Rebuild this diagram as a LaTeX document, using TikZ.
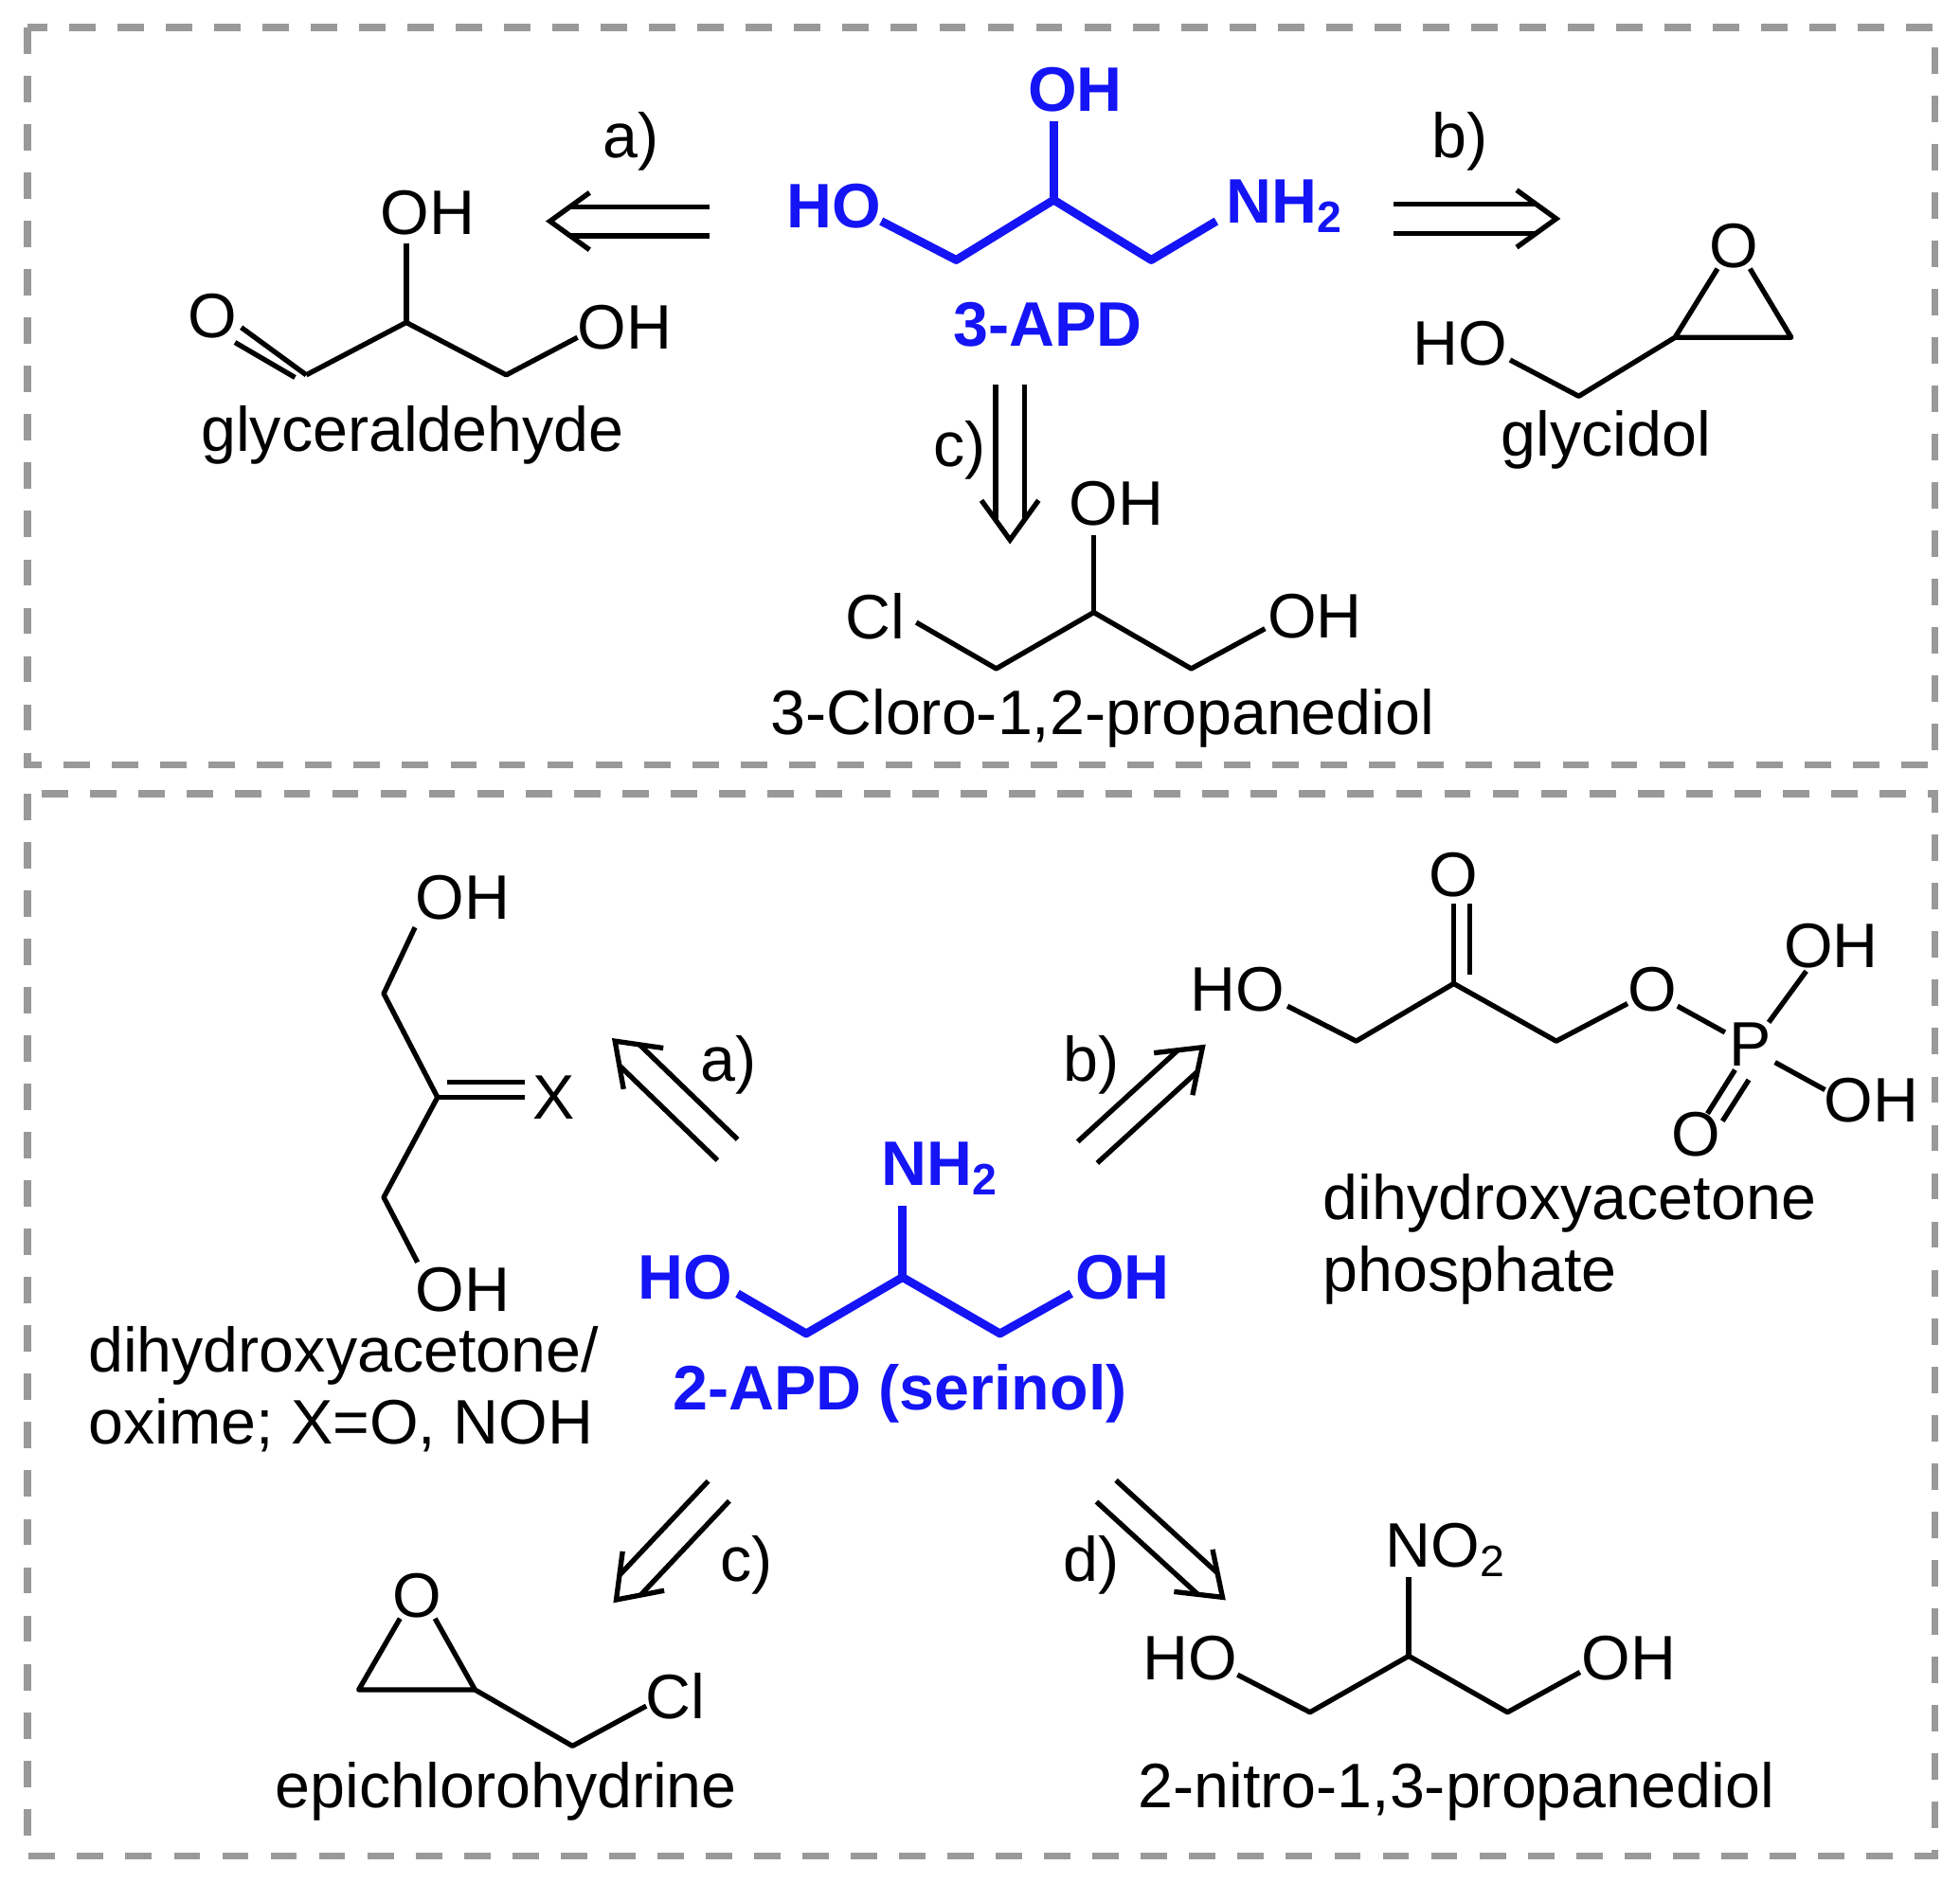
\documentclass[tikz,border=0pt]{standalone}
\usepackage{fontspec}
\setmainfont{Liberation Sans}
\usetikzlibrary{calc}
\definecolor{apd}{RGB}{20,20,245}
\newcommand\retro[2]{%
 \coordinate (rK) at ($(#2)!9pt!(#1)$);
 \coordinate (rM) at ($(#2)!4.6pt!(#1)$);
 \draw[bd] ($(#1)!3.3pt!90:(#2)$) -- ($(rM)!3.3pt!90:(#2)$);
 \draw[bd] ($(#1)!3.3pt!-90:(#2)$) -- ($(rM)!3.3pt!-90:(#2)$);
 \draw[bd,line join=miter] ($(rK)!6.5pt!90:(#2)$) -- (#2) -- ($(rK)!6.5pt!-90:(#2)$);}
\begin{document}
\begin{tikzpicture}[x=0.01cm,y=-0.01cm,
 t/.style={inner sep=0pt,font=\fontsize{14.3}{16}\selectfont},
 bt/.style={t,text=apd,font=\fontsize{14.3}{16}\selectfont\bfseries},
 bd/.style={line width=1.15pt,line join=round},
 bb/.style={line width=1.9pt,apd,line join=round},
 box/.style={gray!80,line width=1.6pt,dash pattern=on 6pt off 5pt}]
\useasboundingbox (0,0) rectangle (1568,1506);
\draw[box] (22,22) rectangle (1548,612);
\draw[box] (22,635) rectangle (1548,1485);
% 3-APD
\node[bt] (ho1) at (667,165) {HO};
\node[bt] (oh1) at (860,72) {OH};
\node[bt] (nh1) at (1028,165) {NH\textsubscript{2}};
\node[bt] (l1) at (838,260) {3-APD};
\coordinate (a1) at (765,208); \coordinate (a2) at (843,160); \coordinate (a3) at (921,208);
\draw[bb] (705,177) -- (a1) -- (a2) -- (a3) -- (973,177);
\draw[bb] (a2) -- (843,97);
% arrows top
\coordinate (ra1) at (568,177); \coordinate (ra2) at (440,177);
\retro{ra1}{ra2} \node[t] (la) at (505,113) {a)};
\coordinate (rb1) at (1115,175); \coordinate (rb2) at (1245,175);
\retro{rb1}{rb2} \node[t] (lb) at (1168,113) {b)};
\coordinate (rc1) at (808,308); \coordinate (rc2) at (808,432);
\retro{rc1}{rc2} \node[t] (lc) at (768,360) {c)};
% glyceraldehyde
\node[t] (go) at (170,253) {O};
\node[t] (goh) at (342,170) {OH};
\node[t] (goh2) at (500,262) {OH};
\coordinate (g1) at (245,300); \coordinate (g2) at (325,258); \coordinate (g3) at (405,300);
\draw[bd] (193,262) -- (g1); \draw[bd] (188,274) -- (236,302);
\draw[bd] (g1) -- (g2) -- (g3) -- (462,270);
\draw[bd] (g2) -- (325,195);
\node[t] (gl) at (330,348) {glyceraldehyde};
% glycidol
\node[t] (yho) at (1168,275) {HO};
\node[t] (yo) at (1387,197) {O};
\coordinate (y1) at (1263,317); \coordinate (y2) at (1340,270); \coordinate (y3) at (1433,270);
\draw[bd] (1208,288) -- (y1) -- (y2) -- (y3) -- (1400,215) (1374,215) -- (y2);
\node[t] (yl) at (1285,352) {glycidol};
% chloro
\node[t] (ccl) at (700,493) {Cl};
\node[t] (coh) at (893,403) {OH};
\node[t] (coh2) at (1052,493) {OH};
\coordinate (c1) at (797,535); \coordinate (c2) at (875,490); \coordinate (c3) at (953,535);
\draw[bd] (733,498) -- (c1) -- (c2) -- (c3) -- (1012,503);
\draw[bd] (c2) -- (875,428);
\node[t] (cl) at (882,575) {3-Cloro-1,2-propanediol};
% serinol
\node[bt] (sho) at (548,1022) {HO};
\node[bt] (snh) at (752,935) {NH\textsubscript{2}};
\node[bt] (soh) at (898,1022) {OH};
\node[bt] (sl) at (720,1115) {2-APD (serinol)};
\coordinate (s1) at (645,1067); \coordinate (s2) at (722,1022); \coordinate (s3) at (800,1067);
\draw[bb] (590,1035) -- (s1) -- (s2) -- (s3) -- (857,1035);
\draw[bb] (s2) -- (722,965);
% arrows bottom
\coordinate (rd1) at (582,920); \coordinate (rd2) at (492,833);
\retro{rd1}{rd2} \node[t] (ld) at (583,852) {a)};
\coordinate (re1) at (870,922); \coordinate (re2) at (962,838);
\retro{re1}{re2} \node[t] (le) at (873,852) {b)};
\coordinate (rf1) at (575,1193); \coordinate (rf2) at (493,1280);
\retro{rf1}{rf2} \node[t] (lf) at (597,1252) {c)};
\coordinate (rg1) at (885,1193); \coordinate (rg2) at (978,1278);
\retro{rg1}{rg2} \node[t] (lg) at (873,1252) {d)};
% DHA
\node[t] (doh) at (370,718) {OH};
\node[t] (doh2) at (370,1032) {OH};
\node[t] (dx) at (443,878) {X};
\coordinate (d1) at (307,795); \coordinate (d2) at (350,878); \coordinate (d3) at (307,958);
\draw[bd] (332,742) -- (d1) -- (d2) -- (d3) -- (334,1010);
\draw[bd] (d2) -- (420,878); \draw[bd] (358,866) -- (420,866);
\node[t,anchor=west] (dl1) at (70,1085) {dihydroxyacetone/};
\node[t,anchor=west] (dl2) at (70,1140) {oxime; X=O, NOH};
% DHAP
\node[t] (pho) at (990,792) {HO};
\node[t] (po) at (1163,700) {O};
\node[t] (po2) at (1322,792) {O};
\node[t] (pp) at (1400,836) {P};
\node[t] (poh) at (1465,757) {OH};
\node[t] (poh2) at (1497,880) {OH};
\node[t] (po3) at (1357,908) {O};
\coordinate (p1) at (1085,833); \coordinate (p2) at (1163,787); \coordinate (p3) at (1245,833);
\draw[bd] (1030,805) -- (p1) -- (p2) -- (p3) -- (1302,803);
\draw[bd] (p2) -- (1163,723); \draw[bd] (1176,780) -- (1176,723);
\draw[bd] (1342,805) -- (1380,826);
\draw[bd] (1415,818) -- (1445,777);
\draw[bd] (1420,850) -- (1460,872);
\draw[bd] (1388,856) -- (1366,891); \draw[bd] (1399,864) -- (1378,897);
\node[t,anchor=west] (pl1) at (1058,963) {dihydroxyacetone};
\node[t,anchor=west] (pl2) at (1058,1020) {phosphate};
% epichlorohydrin
\node[t] (eo) at (334,1277) {O};
\node[t] (ecl) at (540,1357) {Cl};
\coordinate (e1) at (287,1352); \coordinate (e2) at (380,1352); \coordinate (e3) at (458,1397);
\draw[bd] (320,1295) -- (e1) -- (e2) -- (348,1295);
\draw[bd] (e2) -- (e3) -- (517,1365);
\node[t] (el) at (405,1433) {epichlorohydrine};
% nitro
\node[t] (nho) at (952,1327) {HO};
\node[t] (nno) at (1157,1240) {NO\textsubscript{2}};
\node[t] (noh) at (1303,1327) {OH};
\coordinate (n1) at (1048,1370); \coordinate (n2) at (1127,1325); \coordinate (n3) at (1206,1370);
\draw[bd] (990,1340) -- (n1) -- (n2) -- (n3) -- (1264,1338);
\draw[bd] (n2) -- (1127,1262);
\node[t] (nl) at (1165,1433) {2-nitro-1,3-propanediol};
\end{tikzpicture}
\end{document}
